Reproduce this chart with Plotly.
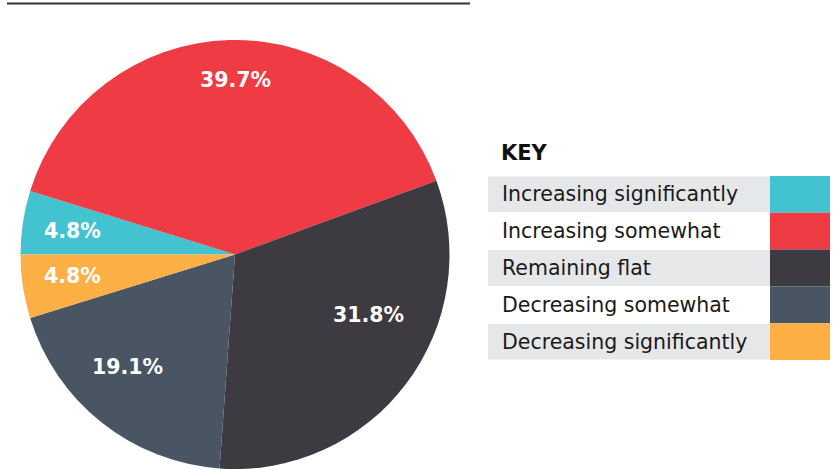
import plotly.graph_objects as go

categories = ["Increasing significantly", "Increasing somewhat", "Remaining flat",
              "Decreasing somewhat", "Decreasing significantly"]
values = [4.8, 39.7, 31.8, 19.1, 4.8]
colors = ["#42C3CF", "#EF3B44", "#3D3A41", "#4A5563", "#FBAF45"]

# pixel positions of the percentage labels (layout only)
label_pos = [(72, 231), (235, 80), (368, 315), (127, 367), (72, 276)]

W, H = 837, 469
fig = go.Figure()
fig.add_trace(go.Pie(
    labels=categories, values=values, sort=False, direction="clockwise", rotation=270,
    marker=dict(colors=colors, line=dict(width=0)),
    textinfo="none", hoverinfo="label+value", showlegend=False,
    domain=dict(x=[20 / W, 450 / W], y=[0, (H - 40) / H]),
))

def px(x):
    return x / W

def py(y):
    return 1 - y / H

shapes = [dict(type="line", xref="paper", yref="paper", x0=px(7), x1=px(470), y0=py(3.5), y1=py(3.5),
               line=dict(color="#333333", width=2))]
annotations = [dict(text="<b>KEY</b>", xref="paper", yref="paper", x=px(499), y=py(153),
                    xanchor="left", yanchor="middle", showarrow=False,
                    font=dict(family="DejaVu Sans", size=21, color="#111111"))]

for v, (lx, ly) in zip(values, label_pos):
    annotations.append(dict(text=f"<b>{v:.1f}%</b>", xref="paper", yref="paper", x=px(lx), y=py(ly),
                            xanchor="center", yanchor="middle", showarrow=False,
                            font=dict(family="DejaVu Sans", size=20.5, color="white")))

row_top, row_h = 176, 36.8
for i, (cat, col) in enumerate(zip(categories, colors)):
    y0 = row_top + i * row_h
    y1 = y0 + row_h
    if i % 2 == 0:
        shapes.append(dict(type="rect", xref="paper", yref="paper", x0=px(488), x1=px(770),
                           y0=py(y1 - 0.5), y1=py(y0 + 0.5), fillcolor="#E6E7E8", line=dict(width=0)))
    shapes.append(dict(type="rect", xref="paper", yref="paper", x0=px(770), x1=px(830),
                       y0=py(y1), y1=py(y0), fillcolor=col, line=dict(width=0)))
    annotations.append(dict(text=cat, xref="paper", yref="paper", x=px(500), y=py((y0 + y1) / 2),
                            xanchor="left", yanchor="middle", showarrow=False,
                            font=dict(family="DejaVu Sans", size=20.5, color="#1a1a1a")))

fig.update_layout(width=W, height=H, margin=dict(l=0, r=0, t=0, b=0),
                  paper_bgcolor="white", plot_bgcolor="white",
                  shapes=shapes, annotations=annotations)
fig.write_html("out.html")
